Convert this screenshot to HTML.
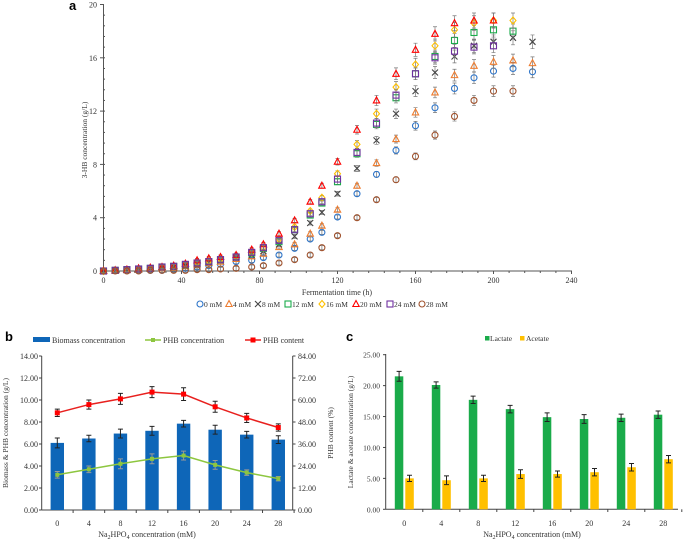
<!DOCTYPE html>
<html><head><meta charset="utf-8"><style>
body{margin:0;background:#fff;width:685px;height:540px;overflow:hidden}
svg{font-family:"Liberation Serif",serif;display:block}
</style></head><body>
<svg id="s" width="685" height="540"></svg>
<script>
// Panel a data
const timesA=[0,6,12,18,24,30,36,42,48,54,60,68,76,82,90,98,106,112,120,130,140,150,160,170,180,190,200,210,220];
const seriesNames=["0 mM","4 mM","8 mM","12 mM","16 mM","20 mM","24 mM","28 mM"];
const s0=[0,0.05,0.05,0.05,0.05,0.05,0.1,0.2,0.3,0.4,0.5,0.7,0.8,1.0,1.2,1.7,2.4,2.9,4.05,5.8,7.25,9.05,10.9,12.25,13.7,14.5,15.0,15.2,14.95];
const s4=[0,0.05,0.1,0.1,0.15,0.2,0.25,0.35,0.5,0.6,0.7,0.9,1.1,1.3,1.8,2.0,2.8,3.4,4.6,6.4,8.1,9.9,11.9,13.4,14.7,15.4,15.7,15.8,15.6];
const s8=[0,0.05,0.1,0.15,0.2,0.25,0.3,0.4,0.55,0.65,0.8,1.0,1.2,1.5,2.0,2.6,3.6,4.4,5.8,7.7,9.8,11.8,13.5,14.9,16.1,16.9,17.2,17.5,17.2];
const s12=[0,0.05,0.1,0.15,0.2,0.3,0.35,0.45,0.6,0.7,0.85,1.05,1.35,1.7,2.2,3.1,4.2,5.1,6.7,8.8,11.0,13.0,14.8,16.1,17.3,17.9,18.1,18.0,null];
const s16=[0,0.05,0.1,0.15,0.2,0.3,0.35,0.5,0.65,0.75,0.9,1.1,1.4,1.75,2.4,3.3,4.5,5.5,7.3,9.5,11.8,13.8,15.5,16.9,18.1,18.6,18.8,18.8,null];
const s20=[0,0.05,0.1,0.2,0.25,0.3,0.4,0.55,0.8,0.95,1.05,1.2,1.6,2.0,2.8,3.8,5.2,6.4,8.2,10.6,12.8,14.8,16.6,17.8,18.6,18.8,18.8,null,null];
const s24=[0,0.05,0.1,0.15,0.2,0.3,0.35,0.5,0.6,0.7,0.85,1.05,1.4,1.75,2.3,3.1,4.3,5.2,6.9,8.9,11.1,13.2,14.8,16.0,16.5,16.8,16.9,null,null];
const s28=[0,0,0,0,0.05,0.05,0.05,0.05,0.1,0.1,0.15,0.2,0.3,0.4,0.6,0.85,1.2,1.75,2.65,4.0,5.35,6.85,8.6,10.2,11.6,12.8,13.5,13.5,null];
// Panel b data
const catsB=["0","4","8","12","16","20","24","28"];
const biomass=[6.1,6.5,6.95,7.2,7.85,7.3,6.85,6.4];
const biomassErr=[0.45,0.3,0.4,0.4,0.3,0.4,0.3,0.35];
const phbConc=[3.2,3.7,4.2,4.65,4.95,4.1,3.4,2.85];
const phbConcErr=[0.3,0.3,0.45,0.45,0.4,0.4,0.25,0.2];
const phbContent=[53,57.5,60.6,64.3,63.2,56.3,50.2,45];
const phbContentErr=[2,2.5,3,3,3.5,3,2.5,2];
// Panel c data
const lactate=[21.5,20.1,17.7,16.2,14.9,14.6,14.8,15.3];
const lactateErr=[0.8,0.5,0.6,0.6,0.7,0.7,0.6,0.6];
const acetate=[5.0,4.7,5.0,5.7,5.7,6.0,6.8,8.1];
const acetateErr=[0.5,0.7,0.5,0.7,0.5,0.6,0.6,0.6];

const NS="http://www.w3.org/2000/svg";
const svg=document.getElementById('s');
function mk(tag,attrs,parent){const e=document.createElementNS(NS,tag);for(const k in attrs)e.setAttribute(k,attrs[k]);(parent||svg).appendChild(e);return e;}
function txt(x,y,s,attrs){const t=mk('text',Object.assign({x:x,y:y},attrs||{}));t.textContent=s;return t;}

// ===== Panel a =====
const ax=t=>103.5+t*(468/240), ay=v=>271-v*(266.5/20);
const gA=mk('g',{});


mk('line',{x1:103.5,y1:4,x2:103.5,y2:271,stroke:'#555','stroke-width':1},gA);
mk('line',{x1:103.5,y1:271,x2:572,y2:271,stroke:'#555','stroke-width':1},gA);
for(let v=0;v<=20;v+=0.8){mk('line',{x1:103.5,x2:105,y1:ay(v),y2:ay(v),stroke:'#555'},gA);}
for(let v=0;v<=20;v+=4){mk('line',{x1:100,x2:103.5,y1:ay(v),y2:ay(v),stroke:'#555'},gA);txt(97,ay(v)+3,String(v),{'font-size':8,'text-anchor':'end',fill:'#333'});}
for(let t=0;t<=240;t+=40){mk('line',{x1:ax(t),x2:ax(t),y1:271,y2:274,stroke:'#555'},gA);txt(ax(t),283,String(t),{'font-size':8,'text-anchor':'middle',fill:'#333'});}
for(let t=0;t<=240;t+=8){mk('line',{x1:ax(t),x2:ax(t),y1:271,y2:273,stroke:'#555'},gA);}
txt(337,295,'Fermentation time (h)',{'font-size':8,'text-anchor':'middle',fill:'#333'});
txt(0,0,'3-HB concentration (g/L)',{'font-size':7.5,'text-anchor':'middle',fill:'#333',transform:'translate(87,140) rotate(-90)'});
txt(69,10,'a',{'font-family':'Liberation Sans,sans-serif','font-size':13,'font-weight':'bold'});
const colors=['#2e75c9','#ed7d31','#444','#1aab4a','#ffc000','#ff0000','#7030a0','#a0522d'];
const shapes=['circle','tri','x','square','diamond','tri','square','circle'];
function marker(g,shape,x,y,c){
  if(shape==='circle')mk('circle',{cx:x,cy:y,r:3,fill:'none',stroke:c,'stroke-width':1.1},g);
  else if(shape==='square')mk('rect',{x:x-3,y:y-3,width:6,height:6,fill:'none',stroke:c,'stroke-width':1.1},g);
  else if(shape==='tri')mk('polygon',{points:`${x},${y-3.5} ${x+3.2},${y+2.5} ${x-3.2},${y+2.5}`,fill:'none',stroke:c,'stroke-width':1.1},g);
  else if(shape==='diamond')mk('polygon',{points:`${x},${y-3.5} ${x+3},${y} ${x},${y+3.5} ${x-3},${y}`,fill:'none',stroke:c,'stroke-width':1.1},g);
  else {mk('path',{d:`M${x-3} ${y-3}L${x+3} ${y+3}M${x+3} ${y-3}L${x-3} ${y+3}`,stroke:c,'stroke-width':1.1},g);}
}
const allS=[s0,s4,s8,s12,s16,s20,s24,s28];
allS.forEach((ser,si)=>{
  const g=mk('g',{},gA);
  
  
  ser.forEach((v,i)=>{
    if(v===null)return;
    const x=ax(timesA[i]),y=ay(v),e=Math.max(0.15,v*0.03)*13.3;
    mk('path',{d:`M${x} ${y-e}V${y+e}M${x-2} ${y-e}H${x+2}M${x-2} ${y+e}H${x+2}`,stroke:'#777','stroke-width':0.7},g);
    marker(g,shapes[si],x,y,colors[si]);
  });
});
const legA=mk('g',{},gA);


const legX=[200,229,258,288,322,356,390,422];
seriesNames.forEach((n,i)=>{marker(legA,shapes[i],legX[i],304,colors[i]);txt(legX[i]+4,307,n,{'font-size':7.5,fill:'#333'});});

// ===== Panel b =====
const bx=i=>57.3+i*31.57, by=v=>510-v*11, byR=v=>510-v*(154/84);
const gB=mk('g',{});


txt(5,341,'b',{'font-family':'Liberation Sans,sans-serif','font-size':13,'font-weight':'bold'});
mk('line',{x1:41.7,y1:356,x2:41.7,y2:510,stroke:'#444'},gB);
mk('line',{x1:292.7,y1:356,x2:292.7,y2:510,stroke:'#444'},gB);
mk('line',{x1:41.7,y1:510,x2:292.7,y2:510,stroke:'#444'},gB);
for(let v=0;v<=14;v+=2){mk('line',{x1:39,x2:41.7,y1:by(v),y2:by(v),stroke:'#444'},gB);txt(38,by(v)+3,v.toFixed(2),{'font-size':8,'text-anchor':'end',fill:'#333'});}
for(let v=0;v<=84;v+=12){mk('line',{x1:292.7,x2:295.5,y1:byR(v),y2:byR(v),stroke:'#444'},gB);txt(298,byR(v)+3,v.toFixed(2),{'font-size':8,fill:'#333'});}
catsB.forEach((c,i)=>{txt(bx(i),526,c,{'font-size':8,'text-anchor':'middle',fill:'#333'});mk('line',{x1:bx(i)+15.8,x2:bx(i)+15.8,y1:510,y2:513,stroke:'#444'},gB);});
const xb=txt(147,537,'',{'font-size':8,'text-anchor':'middle',fill:'#333'});
xb.innerHTML='Na<tspan font-size="6" dy="2">2</tspan><tspan dy="-2">HPO</tspan><tspan font-size="6" dy="2">4</tspan><tspan dy="-2"> concentration (mM)</tspan>';
txt(0,0,'Biomass & PHB concentration (g/L)',{'font-size':7.5,'text-anchor':'middle',fill:'#333',transform:'translate(8,433) rotate(-90)'});
txt(0,0,'PHB content (%)',{'font-size':7.5,'text-anchor':'middle',fill:'#333',transform:'translate(333,433) rotate(-90)'});
function err(g,x,y1,y2,c){mk('path',{d:`M${x} ${y1}V${y2}M${x-2.5} ${y1}H${x+2.5}M${x-2.5} ${y2}H${x+2.5}`,stroke:c,'stroke-width':1},g);}
biomass.forEach((v,i)=>{const r=mk('rect',{x:bx(i)-6.7,y:by(v),width:13.4,height:510-by(v),fill:'#0e66b8'},gB);
  
  
  err(gB,bx(i),by(v+biomassErr[i]),by(v-biomassErr[i]),'#222');});
mk('polyline',{points:phbConc.map((v,i)=>bx(i)+','+by(v)).join(' '),fill:'none',stroke:'#8dc63f','stroke-width':1.5},gB);
phbConc.forEach((v,i)=>{err(gB,bx(i),by(v+phbConcErr[i]),by(v-phbConcErr[i]),'#999');mk('rect',{x:bx(i)-2,y:by(v)-2,width:4,height:4,fill:'#8dc63f'},gB);});
mk('polyline',{points:phbContent.map((v,i)=>bx(i)+','+byR(v)).join(' '),fill:'none',stroke:'#e8201e','stroke-width':1.5},gB);
phbContent.forEach((v,i)=>{err(gB,bx(i),byR(v+phbContentErr[i]),byR(v-phbContentErr[i]),'#222');mk('rect',{x:bx(i)-2.5,y:byR(v)-2.5,width:5,height:5,fill:'#f00'},gB);});
const legB=mk('g',{},gB);


mk('rect',{x:33,y:337,width:17,height:5,fill:'#0e66b8'},legB);txt(52,343,'Biomass concentration',{'font-size':8,fill:'#333'});
mk('line',{x1:145,x2:161,y1:340,y2:340,stroke:'#8dc63f','stroke-width':1.5},legB);mk('rect',{x:151,y:338,width:4,height:4,fill:'#8dc63f'},legB);txt(163,343,'PHB concentration',{'font-size':8,fill:'#333'});
mk('line',{x1:245,x2:261,y1:340,y2:340,stroke:'#e8201e','stroke-width':1.5},legB);mk('rect',{x:250.5,y:337.5,width:5,height:5,fill:'#f00'},legB);txt(263,343,'PHB content',{'font-size':8,fill:'#333'});

// ===== Panel c =====
const cx=i=>404.3+i*37, cy=v=>509.3-v*(154.6/25);
const gC=mk('g',{});


txt(346,341,'c',{'font-family':'Liberation Sans,sans-serif','font-size':13,'font-weight':'bold'});
mk('line',{x1:385.7,y1:354,x2:385.7,y2:509.3,stroke:'#444'},gC);
mk('line',{x1:385.7,y1:509.3,x2:678,y2:509.3,stroke:'#444'},gC);
for(let v=0;v<=25;v+=5){mk('line',{x1:383,x2:385.7,y1:cy(v),y2:cy(v),stroke:'#444'},gC);txt(380,cy(v)+3,v.toFixed(2),{'font-size':7.5,'text-anchor':'end',fill:'#333'});}
catsB.forEach((c,i)=>{txt(cx(i),526,c,{'font-size':8,'text-anchor':'middle',fill:'#333'});mk('line',{x1:cx(i)+18.5,x2:cx(i)+18.5,y1:509.3,y2:512,stroke:'#444'},gC);});
const xc=txt(532,537,'',{'font-size':8,'text-anchor':'middle',fill:'#333'});
xc.innerHTML='Na<tspan font-size="6" dy="2">2</tspan><tspan dy="-2">HPO</tspan><tspan font-size="6" dy="2">4</tspan><tspan dy="-2"> concentration (mM)</tspan>';
txt(0,0,'Lactate & acetate concentration (g/L)',{'font-size':7.5,'text-anchor':'middle',fill:'#333',transform:'translate(353,432) rotate(-90)'});
lactate.forEach((v,i)=>{const r=mk('rect',{x:cx(i)-9.5,y:cy(v),width:8.5,height:509.3-cy(v),fill:'#1aab4a'},gC);
  
  
  err(gC,cx(i)-5.2,cy(v+lactateErr[i]),cy(v-lactateErr[i]),'#222');});
acetate.forEach((v,i)=>{const r=mk('rect',{x:cx(i)+1,y:cy(v),width:8.5,height:509.3-cy(v),fill:'#ffc000'},gC);
  
  
  err(gC,cx(i)+5.2,cy(v+acetateErr[i]),cy(v-acetateErr[i]),'#222');});
const legC=mk('g',{},gC);


mk('rect',{x:485,y:336,width:4.5,height:4.5,fill:'#1aab4a'},legC);txt(490,341,'Lactate',{'font-size':7.5,fill:'#333'});
mk('rect',{x:520,y:336,width:4.5,height:4.5,fill:'#ffc000'},legC);txt(526,341,'Acetate',{'font-size':7.5,fill:'#333'});
</script>
</body></html>
